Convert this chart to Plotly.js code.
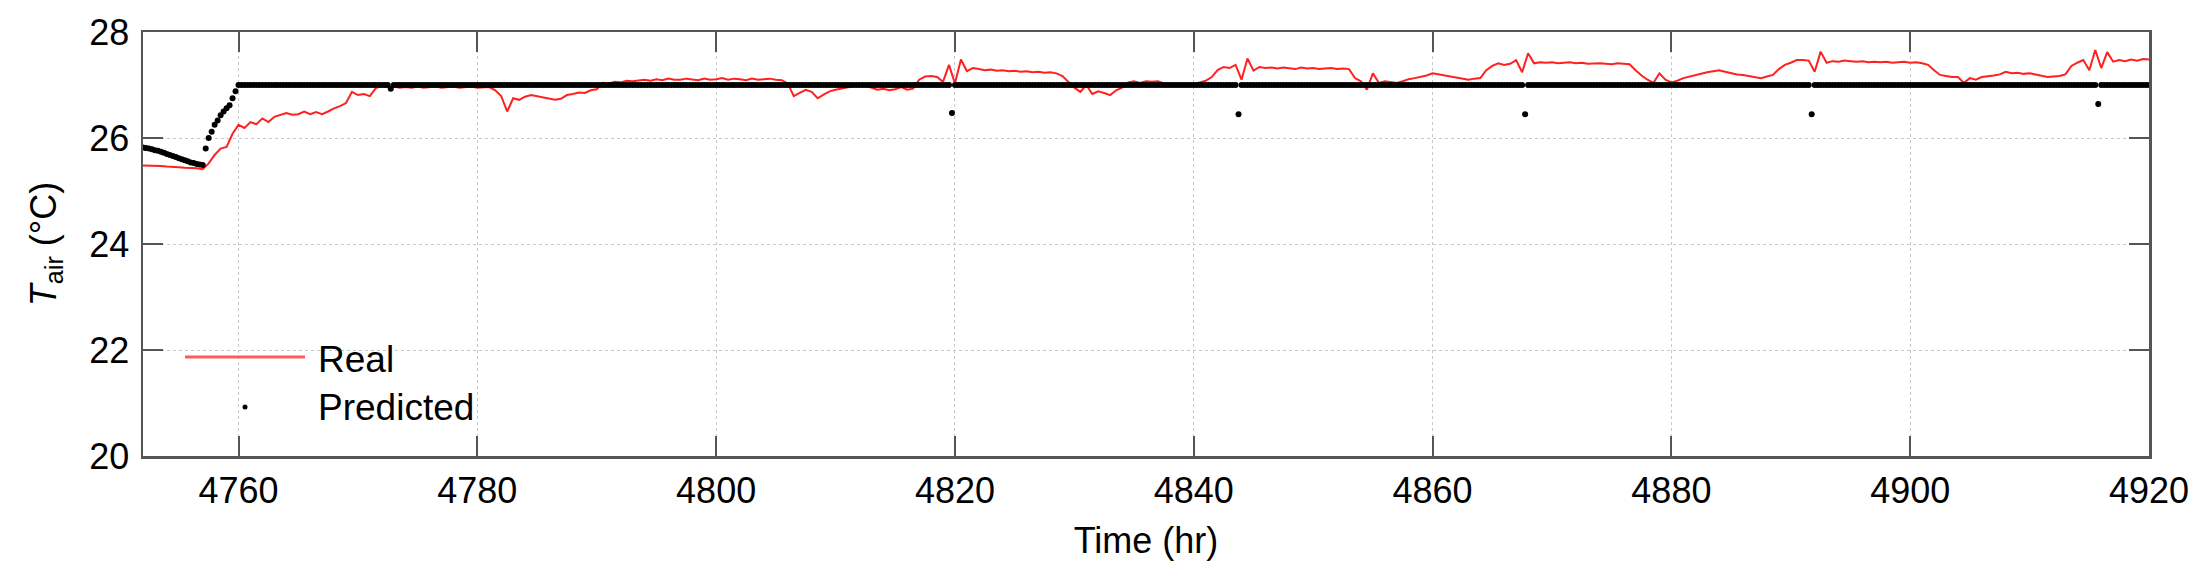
<!DOCTYPE html>
<html>
<head>
<meta charset="utf-8">
<script src="https://cdn.plot.ly/plotly-3.0.1.min.js"></script>
<style>
  html, body { margin: 0; padding: 0; background: #fff; }
  #chart { width: 2209px; height: 573px; }
</style>
</head>
<body>
<div id="chart"></div>
<script>
// ---------------- DATA ----------------
// Real measured air temperature, sampled every 0.5 h starting at t = 4752 h
const realStart = 4752;
const realStep = 0.5;
const realY = [
  25.48,25.48,25.47,25.47,25.46,25.46,25.45,25.44,
  25.44,25.43,25.41,25.52,25.68,25.80,25.83,26.08,
  26.25,26.19,26.30,26.26,26.37,26.30,26.40,26.44,
  26.47,26.44,26.45,26.50,26.45,26.49,26.45,26.50,
  26.56,26.60,26.66,26.87,26.81,26.83,26.79,26.94,
  26.98,26.96,26.97,26.95,26.96,26.95,26.97,26.95,
  26.96,26.97,26.95,26.96,26.97,26.95,26.96,26.97,
  26.95,26.96,26.96,26.90,26.79,26.50,26.75,26.72,
  26.78,26.81,26.79,26.77,26.75,26.72,26.74,26.81,
  26.83,26.86,26.85,26.90,26.92,27.04,27.03,27.06,
  27.05,27.08,27.07,27.09,27.10,27.08,27.11,27.09,
  27.12,27.10,27.10,27.12,27.11,27.09,27.12,27.10,
  27.11,27.13,27.10,27.12,27.11,27.09,27.12,27.10,
  27.11,27.12,27.10,27.09,27.03,26.79,26.85,26.91,
  26.87,26.75,26.82,26.88,26.91,26.93,26.95,26.98,
  27.00,26.99,26.95,26.91,26.93,26.90,26.92,26.96,
  26.91,26.93,27.10,27.16,27.17,27.15,27.06,27.38,
  27.03,27.48,27.26,27.32,27.30,27.28,27.29,27.27,
  27.28,27.26,27.27,27.25,27.26,27.24,27.25,27.23,
  27.24,27.22,27.17,27.05,26.95,26.87,27.00,26.83,
  26.88,26.85,26.81,26.90,26.95,27.05,27.07,27.04,
  27.07,27.06,27.07,27.03,27.00,26.98,26.99,27.00,
  27.02,27.05,27.08,27.15,27.28,27.34,27.32,27.38,
  27.10,27.50,27.27,27.34,27.32,27.33,27.31,27.33,
  27.32,27.30,27.33,27.31,27.32,27.30,27.31,27.32,
  27.30,27.31,27.30,27.13,27.07,26.91,27.22,27.04,
  27.07,27.05,27.04,27.07,27.11,27.13,27.15,27.18,
  27.22,27.20,27.19,27.17,27.15,27.13,27.10,27.12,
  27.13,27.28,27.36,27.41,27.38,27.40,27.47,27.24,
  27.60,27.41,27.43,27.42,27.43,27.41,27.42,27.43,
  27.41,27.42,27.40,27.41,27.41,27.40,27.39,27.41,
  27.40,27.39,27.28,27.18,27.10,27.04,27.22,27.10,
  27.05,27.08,27.13,27.16,27.19,27.22,27.24,27.26,
  27.28,27.25,27.22,27.20,27.19,27.17,27.15,27.13,
  27.16,27.19,27.30,27.38,27.42,27.47,27.47,27.46,
  27.25,27.63,27.42,27.45,27.44,27.46,27.45,27.44,
  27.45,27.43,27.44,27.43,27.44,27.42,27.43,27.44,
  27.42,27.43,27.41,27.38,27.28,27.19,27.17,27.15,
  27.15,27.04,27.13,27.10,27.15,27.16,27.18,27.20,
  27.25,27.22,27.23,27.21,27.22,27.20,27.18,27.15,
  27.16,27.17,27.20,27.36,27.42,27.47,27.28,27.66,
  27.32,27.62,27.44,27.47,27.45,27.48,27.46,27.49,
  27.48
];

// Predicted air temperature, sampled every 0.25 h starting at t = 4752 h
const predStart = 4752;
const predStep = 0.25;
const predY = [
  // 4752 - 4759.75
  25.82,25.81,25.80,25.79, 25.77,25.76,25.74,25.72, 25.70,25.68,25.66,25.64, 25.62,25.60,25.58,25.56,
  25.54,25.53,25.51,25.50, 25.49,25.80,26.00,26.12, 26.25,26.33,26.43,26.50, 26.56,26.62,26.75,26.88,
  // 4760 - 4767.75
  27,27,27,27, 27,27,27,27, 27,27,27,27, 27,27,27,27, 27,27,27,27, 27,27,27,27, 27,27,27,27, 27,27,27,27,
  // 4768 - 4775.75
  27,27,27,27, 27,27,27,27, 27,27,27,27, 27,27,27,27, 27,27,27,26.93, 27,27,27,27, 27,27,27,27, 27,27,27,27,
  // 4776 - 4783.75
  27,27,27,27, 27,27,27,27, 27,27,27,27, 27,27,27,27, 27,27,27,27, 27,27,27,27, 27,27,27,27, 27,27,27,27,
  // 4784 - 4791.75
  27,27,27,27, 27,27,27,27, 27,27,27,27, 27,27,27,27, 27,27,27,27, 27,27,27,27, 27,27,27,27, 27,27,27,27,
  // 4792 - 4799.75
  27,27,27,27, 27,27,27,27, 27,27,27,27, 27,27,27,27, 27,27,27,27, 27,27,27,27, 27,27,27,27, 27,27,27,27,
  // 4800 - 4807.75
  27,27,27,27, 27,27,27,27, 27,27,27,27, 27,27,27,27, 27,27,27,27, 27,27,27,27, 27,27,27,27, 27,27,27,27,
  // 4808 - 4815.75
  27,27,27,27, 27,27,27,27, 27,27,27,27, 27,27,27,27, 27,27,27,27, 27,27,27,27, 27,27,27,27, 27,27,27,27,
  // 4816 - 4823.75
  27,27,27,27, 27,27,27,27, 27,27,27,27, 27,27,27,26.47, 27,27,27,27, 27,27,27,27, 27,27,27,27, 27,27,27,27,
  // 4824 - 4831.75
  27,27,27,27, 27,27,27,27, 27,27,27,27, 27,27,27,27, 27,27,27,27, 27,27,27,27, 27,27,27,27, 27,27,27,27,
  // 4832 - 4839.75
  27,27,27,27, 27,27,27,27, 27,27,27,27, 27,27,27,27, 27,27,27,27, 27,27,27,27, 27,27,27,27, 27,27,27,27,
  // 4840 - 4847.75
  27,27,27,27, 27,27,27,27, 27,27,27,27, 27,27,27,26.45, 27,27,27,27, 27,27,27,27, 27,27,27,27, 27,27,27,27,
  // 4848 - 4855.75
  27,27,27,27, 27,27,27,27, 27,27,27,27, 27,27,27,27, 27,27,27,27, 27,27,27,27, 27,27,27,27, 27,27,27,27,
  // 4856 - 4863.75
  27,27,27,27, 27,27,27,27, 27,27,27,27, 27,27,27,27, 27,27,27,27, 27,27,27,27, 27,27,27,27, 27,27,27,27,
  // 4864 - 4871.75
  27,27,27,27, 27,27,27,27, 27,27,27,27, 27,27,27,26.45, 27,27,27,27, 27,27,27,27, 27,27,27,27, 27,27,27,27,
  // 4872 - 4879.75
  27,27,27,27, 27,27,27,27, 27,27,27,27, 27,27,27,27, 27,27,27,27, 27,27,27,27, 27,27,27,27, 27,27,27,27,
  // 4880 - 4887.75
  27,27,27,27, 27,27,27,27, 27,27,27,27, 27,27,27,27, 27,27,27,27, 27,27,27,27, 27,27,27,27, 27,27,27,27,
  // 4888 - 4895.75
  27,27,27,27, 27,27,27,27, 27,27,27,27, 27,27,27,26.45, 27,27,27,27, 27,27,27,27, 27,27,27,27, 27,27,27,27,
  // 4896 - 4903.75
  27,27,27,27, 27,27,27,27, 27,27,27,27, 27,27,27,27, 27,27,27,27, 27,27,27,27, 27,27,27,27, 27,27,27,27,
  // 4904 - 4911.75
  27,27,27,27, 27,27,27,27, 27,27,27,27, 27,27,27,27, 27,27,27,27, 27,27,27,27, 27,27,27,27, 27,27,27,27,
  // 4912 - 4919.75
  27,27,27,27, 27,27,27,27, 27,27,27,27, 27,27,27,26.64, 27,27,27,27, 27,27,27,27, 27,27,27,27, 27,27,27,27,
  // 4920
  27
];

// Axis settings (values)
const xRange = [4752, 4920];
const yRange = [20, 28];
const xTickVals = [4760, 4780, 4800, 4820, 4840, 4860, 4880, 4900, 4920];
const yTickVals = [20, 22, 24, 26, 28];
const legendNames = ['Real', 'Predicted'];

// ---------------- STYLE ----------------
const FONT = 'Liberation Sans, Arial, Helvetica, sans-serif';
const axisCol = '#555555';
const gridCol = '#c8c8c8';
const redCol = '#ff2020';

const traces = [
  {
    type: 'scatter', mode: 'lines', name: legendNames[0],
    x0: realStart, dx: realStep, y: realY,
    line: { color: redCol, width: 2 },
    showlegend: false, hoverinfo: 'skip'
  },
  {
    type: 'scatter', mode: 'markers', name: legendNames[1],
    x0: predStart, dx: predStep, y: predY,
    marker: { color: '#000000', size: 6, line: { width: 0 } },
    showlegend: false, hoverinfo: 'skip'
  }
];

const axisCommon = {
  showline: true, linecolor: axisCol, linewidth: 2.5, mirror: 'ticks',
  ticks: 'inside', ticklen: 20, tickwidth: 2, tickcolor: axisCol,
  showgrid: true, gridcolor: gridCol, gridwidth: 1, griddash: 'dot',
  zeroline: false,
  tickfont: { family: FONT, size: 36, color: '#000' },
  tickmode: 'array'
};

// plot area geometry in px for legend placement
const W = 2209, H = 573;
const M = { l: 143, r: 60, t: 32, b: 117 };
const PW = W - M.l - M.r, PH = H - M.t - M.b;
const px = v => (v - M.l) / PW;
const py = v => (H - M.b - v) / PH;

const layout = {
  width: W, height: H,
  margin: M,
  paper_bgcolor: '#fff', plot_bgcolor: '#fff',
  showlegend: false,
  font: { family: FONT, size: 36, color: '#000' },
  xaxis: Object.assign({}, axisCommon, {
    range: xRange, tickvals: xTickVals,
    ticktext: xTickVals.map(String),
    ticklabelstandoff: 1,
    title: { text: 'Time (hr)', font: { family: FONT, size: 36, color: '#000' }, standoff: 18 }
  }),
  yaxis: Object.assign({}, axisCommon, {
    range: yRange, tickvals: yTickVals,
    ticktext: yTickVals.map(String),
    ticklabelstandoff: 4,
    title: { text: '<i>T</i><sub>air</sub> (°C)', font: { family: FONT, size: 36, color: '#000' }, standoff: 22 }
  }),
  shapes: [
    { type: 'line', xref: 'paper', yref: 'paper',
      x0: px(185), x1: px(305), y0: py(357), y1: py(357),
      line: { color: '#ff5a5a', width: 3 } },
    { type: 'circle', xref: 'paper', yref: 'paper',
      x0: px(242.5), x1: px(247.5), y0: py(409.5), y1: py(404.5),
      fillcolor: '#000', line: { width: 0 } }
  ],
  annotations: [
    { xref: 'paper', yref: 'paper', x: px(316), y: py(359), xanchor: 'left', yanchor: 'middle',
      text: legendNames[0], showarrow: false, font: { family: FONT, size: 37, color: '#000' } },
    { xref: 'paper', yref: 'paper', x: px(316), y: py(407), xanchor: 'left', yanchor: 'middle',
      text: legendNames[1], showarrow: false, font: { family: FONT, size: 37, color: '#000' } }
  ]
};

Plotly.newPlot('chart', traces, layout, { staticPlot: true, displayModeBar: false });
</script>
</body>
</html>
